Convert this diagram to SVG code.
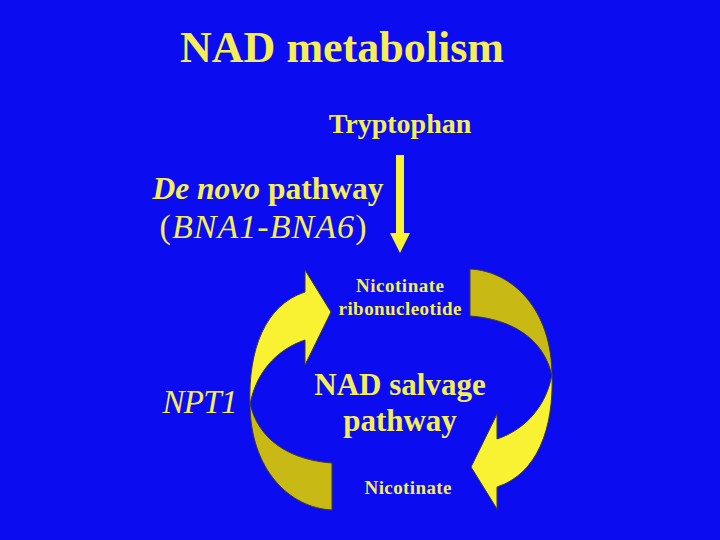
<svg xmlns="http://www.w3.org/2000/svg" width="720" height="540" viewBox="0 0 720 540">
<style>
text{font-family:"Liberation Serif","Times New Roman",serif;fill:#F5EE55;}
.b{font-weight:bold;}
.i{font-style:italic;}
.lt{fill:#F8F232;stroke:#3a3a3a;stroke-width:1;stroke-linejoin:round;}
.dk{fill:#C9B915;stroke:#3a3a3a;stroke-width:1;stroke-linejoin:round;}
</style>
<rect x="0" y="0" width="720" height="540" fill="#0C0CF0"/>
<g id="title"><text class="b" x="342" y="62" font-size="44" text-anchor="middle">NAD metabolism</text></g>
<g id="tryptophan"><text class="b" x="400" y="133" font-size="28" text-anchor="middle">Tryptophan</text></g>
<g id="denovo">
<text x="268" y="199" font-size="31.5" text-anchor="middle" class="b"><tspan class="i">De novo</tspan> pathway</text>
<text x="263" y="238" font-size="34" text-anchor="middle" textLength="207">(<tspan class="i">BNA1-BNA6</tspan>)</text>
</g>
<g id="nicotinate-ribonucleotide">
<text class="b" x="400" y="292" font-size="19" text-anchor="middle" textLength="88">Nicotinate</text>
<text class="b" x="400" y="315" font-size="19" text-anchor="middle" textLength="123">ribonucleotide</text>
</g>
<g id="npt1"><text class="i" x="200" y="413" font-size="33" text-anchor="middle" textLength="75">NPT1</text></g>
<g id="salvage">
<text class="b" x="400" y="395" font-size="31" text-anchor="middle">NAD salvage</text>
<text class="b" x="400" y="431" font-size="31" text-anchor="middle">pathway</text>
</g>
<g id="nicotinate"><text class="b" x="408" y="494" font-size="19" text-anchor="middle" textLength="87">Nicotinate</text></g>
<g id="connectors">
<g id="denovo-arrow">
<polygon points="396,155 404,155 404,233 410,233 400,253 390,233 396,233" fill="#F8F232"/>
</g>
<g id="left-arrow">
<path class="dk" d="M250 403 C250 470 290 508 332 510 L332 463 C290 460 258 440 250 403 Z"/>
<path class="lt" d="M250 405 C248 350 265 305 305 292 L305 270 L331 312 L305 365 L305 340 C275 350 255 375 250 405 Z"/>
</g>
<g id="right-arrow" transform="rotate(180 401 389.5)">
<path class="dk" d="M250 403 C250 470 290 508 332 510 L332 463 C290 460 258 440 250 403 Z"/>
<path class="lt" d="M250 405 C248 350 265 305 305 292 L305 270 L331 312 L305 365 L305 340 C275 350 255 375 250 405 Z"/>
</g>
</g>
</svg>
